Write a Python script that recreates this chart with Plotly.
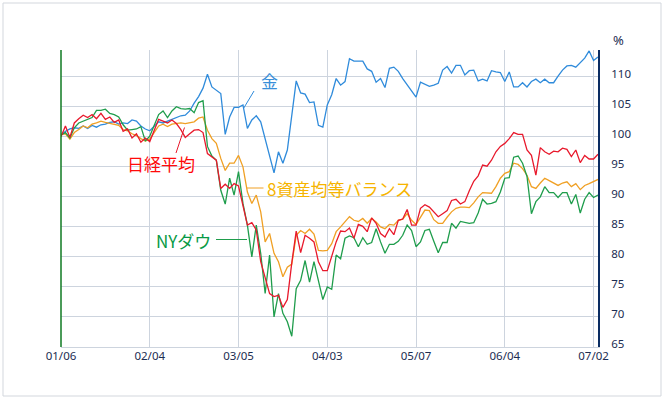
import pandas as pd
import plotly.graph_objects as go

# ---- data -------------------------------------------------------------
holidays = ['2020-01-13', '2020-02-11', '2020-02-24', '2020-03-20',
            '2020-04-29', '2020-05-04', '2020-05-05', '2020-05-06']
days = [d for d in pd.bdate_range('2020-01-06', '2020-07-03')
        if d.strftime('%Y-%m-%d') not in holidays]
dates = [d.strftime('%m/%d') for d in days]

tick_labels = ['01/06', '02/04', '03/05', '04/03', '05/07', '06/04', '07/02']
y_ticks = [65, 70, 75, 80, 85, 90, 95, 100, 105, 110]

gold = [100.3, 100.9, 101.3, 101.5, 101.4, 101.8, 101.4, 101.9, 101.6, 102.0,
        102.1, 102.4, 102.5, 102.1, 102.3, 102.2, 102.8, 102.6, 101.8, 101.3,
        101.0, 101.8, 102.5, 102.3, 102.6, 103.0, 103.3, 103.5, 103.6, 104.3,
        105.6, 106.7, 108.1, 110.4, 108.3, 107.8, 107.2, 100.4, 103.3, 104.9,
        104.9, 105.3, 101.4, 102.8, 103.5, 102.5, 99.7, 96.9, 94.0, 97.5,
        95.6, 97.8, 103.9, 109.3, 107.3, 107.1, 105.7, 105.8, 101.9, 101.6,
        105.3, 107.0, 109.7, 108.6, 109.2, 113.0, 112.6, 112.6, 112.6, 111.3,
        110.9, 109.1, 109.7, 108.2, 111.4, 111.6, 110.9, 109.7, 108.7, 107.5,
        106.6, 109.1, 108.8, 108.4, 108.6, 108.9, 111.1, 111.7, 110.6, 111.9,
        111.9, 110.3, 111.0, 111.1, 109.3, 109.6, 109.3, 111.0, 110.8, 110.7,
        109.2, 110.8, 108.3, 108.3, 109.0, 108.3, 109.2, 109.6, 109.0, 109.6,
        109.0, 109.0, 110.1, 111.1, 111.8, 111.9, 111.6, 112.3, 113.1, 114.3,
        112.7, 113.3]

nikkei = [100.0, 101.8, 99.9, 102.3, 103.0, 103.6, 103.2, 103.7, 103.0, 103.9,
          102.9, 103.3, 102.4, 102.8, 100.9, 101.3, 99.8, 100.5, 99.1, 99.8,
          99.2, 100.9, 102.9, 102.6, 102.3, 102.8, 102.2, 101.2, 99.9, 100.5,
          101.1, 101.2, 100.7, 97.2, 96.6, 96.1, 91.4, 92.1, 91.4, 92.2,
          91.8, 88.6, 85.3, 85.7, 84.5, 79.2, 76.3, 73.9, 73.4, 73.6,
          71.6, 72.9, 79.0, 84.3, 80.7, 83.6, 83.1, 82.5, 79.2, 77.7,
          77.7, 80.3, 82.5, 84.3, 84.2, 84.8, 83.1, 85.4, 85.1, 84.2,
          86.5, 85.6, 83.9, 83.3, 84.7, 83.7, 86.1, 86.3, 87.9, 85.3,
          85.3, 88.1, 88.7, 88.3, 87.5, 86.7, 87.2, 87.7, 89.4, 89.6,
          88.8, 89.2, 91.0, 92.6, 93.5, 95.3, 95.1, 96.1, 97.5, 98.4,
          98.9, 99.7, 100.7, 100.4, 100.4, 97.8, 96.9, 93.6, 98.2, 97.5,
          97.1, 97.6, 97.5, 98.1, 97.9, 96.7, 97.8, 95.7, 96.9, 96.3,
          96.3, 97.1]

balance8 = [100.4, 100.5, 99.6, 100.7, 101.2, 101.8, 101.5, 102.1, 102.3, 102.6,
            102.4, 102.2, 102.1, 101.9, 101.2, 101.0, 100.5, 100.2, 99.7, 99.3,
            99.6, 100.7, 101.8, 102.1, 101.7, 102.1, 102.2, 102.3, 102.2, 102.3,
            102.5, 103.1, 103.3, 101.1, 99.7, 98.9, 96.4, 94.4, 95.6, 95.6,
            96.9, 95.0, 90.8, 88.9, 90.3, 87.5, 82.5, 83.9, 80.6, 79.2,
            76.7, 78.3, 78.8, 83.6, 84.4, 83.9, 84.6, 83.8, 81.1, 81.0,
            81.1, 82.2, 84.2, 85.0, 85.8, 86.7, 86.1, 85.9, 86.4, 85.6,
            86.4, 85.8, 85.0, 84.7, 85.4, 85.3, 86.1, 86.3, 87.2, 86.1,
            85.4, 86.7, 87.8, 87.7, 86.2, 85.6, 85.6, 86.6, 87.5, 88.1,
            88.3, 88.3, 88.2, 89.0, 90.0, 90.7, 90.6, 90.6, 91.7, 93.1,
            93.9, 94.2, 95.6, 95.4, 94.7, 93.6, 91.7, 91.4, 92.3, 93.1,
            92.7, 92.3, 91.9, 92.3, 92.5, 91.7, 92.2, 91.2, 91.9, 92.2,
            92.5, 92.9]

nydow = [100.3, 100.7, 99.8, 101.5, 102.3, 102.6, 102.8, 103.2, 104.4, 104.4,
         104.6, 103.9, 103.7, 103.3, 102.0, 101.1, 101.2, 101.3, 101.7, 99.3,
         100.1, 101.9, 103.7, 104.3, 103.2, 104.3, 105.0, 104.7, 104.6, 104.7,
         104.0, 105.7, 106.0, 98.4, 96.8, 96.1, 91.1, 88.8, 93.1, 90.3,
         94.2, 88.9, 85.3, 80.0, 85.3, 80.6, 73.9, 80.3, 70.0, 73.9,
         70.6, 69.2, 66.8, 74.7, 76.1, 79.4, 75.8, 79.2, 76.1, 72.9,
         75.0, 74.6, 80.3, 79.7, 83.1, 83.5, 83.2, 81.7, 83.2, 82.1,
         82.4, 84.7, 82.5, 80.6, 82.1, 82.1, 82.6, 83.6, 85.3, 84.4,
         81.7, 82.5, 84.4, 84.6, 82.6, 80.7, 82.4, 82.4, 85.6, 84.8,
         85.9, 85.7, 85.6, 85.7, 87.3, 89.6, 88.8, 88.9, 89.2, 90.8,
         93.1, 93.2, 96.6, 96.8, 95.6, 93.4, 87.2, 89.2, 90.0, 91.7,
         90.7, 90.7, 89.9, 90.7, 90.7, 88.8, 90.4, 87.3, 89.6, 90.7,
         89.9, 90.3]

# ---- layout helpers (pixel -> paper) ----------------------------------
W, H = 665, 400
L, R, T, B = 61, 67, 50, 53
PW, PH = W - L - R, H - T - B


def px(x):
    return (x - L) / PW


def py(y):
    return (H - B - y) / PH


fig = go.Figure()
series = [
    (gold, '金', '#2f8bdb'),
    (balance8, '8資産均等バランス', '#f0a024'),
    (nydow, 'NYダウ', '#1f9d4c'),
    (nikkei, '日経平均', '#e8192c'),
]
for vals, name, col in series:
    fig.add_trace(go.Scatter(x=dates, y=vals, mode='lines', name=name,
                             line=dict(color=col, width=1.3)))

grid = '#cdd4de'
fig.update_layout(
    width=W, height=H,
    margin=dict(l=L, r=R, t=T, b=B),
    paper_bgcolor='white', plot_bgcolor='white',
    showlegend=False,
    xaxis=dict(type='category', range=[0, len(dates) - 1],
               tickmode='array', tickvals=tick_labels, ticktext=tick_labels,
               showgrid=True, gridcolor=grid, gridwidth=1,
               showline=True, linecolor=grid, linewidth=1,
               ticks='', ticklabelstandoff=-2,
               tickfont=dict(family='Noto Sans', size=11.5, color='#1c2d52')),
    yaxis=dict(side='right', range=[65, 114.45],
               tickmode='array', tickvals=y_ticks,
               showgrid=True, gridcolor=grid, gridwidth=1, zeroline=False,
               showline=True, linecolor='#0b2d63', linewidth=2,
               ticks='', ticklabelstandoff=9, ticklabelshift=-3,
               tickfont=dict(family='Noto Sans', size=11.5, color='#1c2d52')),
)

shapes = [
    # outer frame
    dict(type='rect', xref='paper', yref='paper', x0=px(3), x1=px(661), y0=py(396), y1=py(3),
         line=dict(color='#d3d7dd', width=1), fillcolor='rgba(0,0,0,0)', layer='below'),
    # left axis (green)
    dict(type='line', xref='paper', yref='paper', x0=0, x1=0, y0=0, y1=1,
         line=dict(color='#0f7a22', width=1.5)),
    # callouts
    dict(type='line', xref='paper', yref='paper', x0=px(243.5), y0=py(108.5), x1=px(254), y1=py(91),
         line=dict(color='#2f8bdb', width=1)),
    dict(type='line', xref='paper', yref='paper', x0=px(176), y0=py(153), x1=px(184.5), y1=py(127.5),
         line=dict(color='#e8192c', width=1)),
    dict(type='line', xref='paper', yref='paper', x0=px(247), y0=py(188), x1=px(263.5), y1=py(188),
         line=dict(color='#f0a024', width=1)),
    dict(type='line', xref='paper', yref='paper', x0=px(216), y0=py(239.5), x1=px(247), y1=py(239.5),
         line=dict(color='#1f9d4c', width=1)),
]
fig.update_layout(shapes=shapes)

jp = 'Noto Sans CJK JP'
anns = [
    dict(text='金', x=px(269), y=py(81), color='#3a8fd9', anchor='center'),
    dict(text='日経平均', x=px(161), y=py(163), color='#ff0a0a', anchor='center'),
    dict(text='8資産均等バランス', x=px(265), y=py(188), color='#f6b400', anchor='left'),
    dict(text='NYダウ', x=px(213), y=py(240.5), color='#079a45', anchor='right'),
]
for a in anns:
    fig.add_annotation(text=a['text'], xref='paper', yref='paper', x=a['x'], y=a['y'],
                       xanchor=a['anchor'], yanchor='middle', showarrow=False,
                       font=dict(family=jp, size=17, color=a['color']))
fig.add_annotation(text='%', xref='paper', yref='paper', x=px(618), y=py(40),
                   xanchor='center', yanchor='middle', showarrow=False,
                   font=dict(family='Noto Sans', size=13, color='#1c2d52'))

fig.write_html('out.html', config={'displayModeBar': False},
               post_script="document.body.style.margin='0';document.body.style.padding='0';")
